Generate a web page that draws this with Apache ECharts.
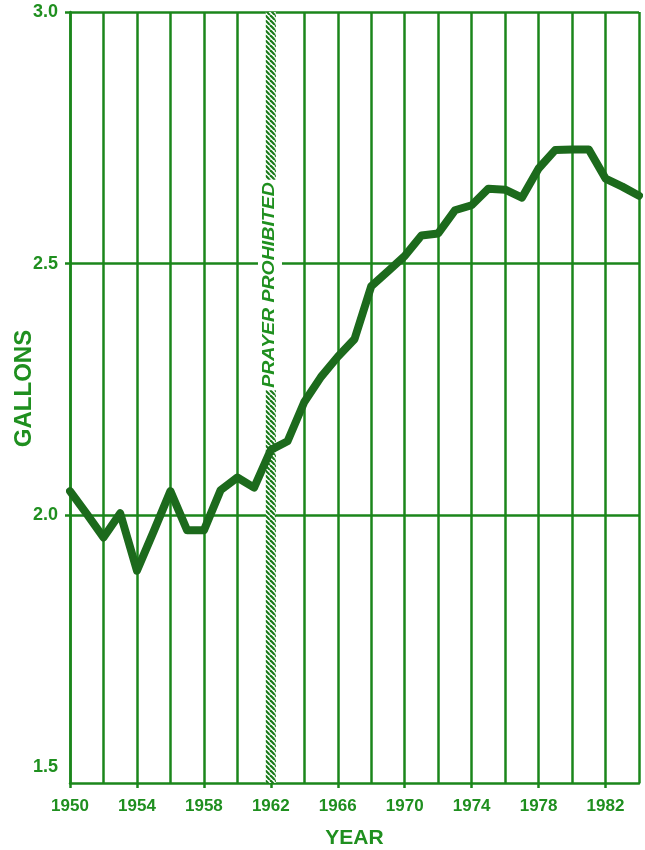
<!DOCTYPE html>
<html>
<head>
<meta charset="utf-8">
<script src="https://cdn.jsdelivr.net/npm/echarts@6/dist/echarts.min.js"></script>
<style>
html, body { margin: 0; padding: 0; background: #fff; }
#main { width: 645px; height: 850px; }
</style>
</head>
<body>
<div id="main"></div>
<script>
// per-year values
var years = [1950, 1951, 1952, 1953, 1954, 1955, 1956, 1957, 1958, 1959,
             1960, 1961, 1962, 1963, 1964, 1965, 1966, 1967, 1968, 1969,
             1970, 1971, 1972, 1973, 1974, 1975, 1976, 1977, 1978, 1979,
             1980, 1981, 1982, 1983, 1984];
var gallons = [2.048, 2.003, 1.956, 2.004, 1.890, 1.968, 2.048, 1.970, 1.970, 2.050,
               2.075, 2.055, 2.130, 2.147, 2.225, 2.275, 2.315, 2.350, 2.455, 2.485,
               2.515, 2.556, 2.560, 2.606, 2.616, 2.649, 2.647, 2.631, 2.689, 2.726,
               2.727, 2.727, 2.669, 2.653, 2.635];

var yLabelValues = [1.5, 2.0, 2.5, 3.0];
var yGridValues = [2.0, 2.5, 3.0];
var xTickYears = [1950, 1954, 1958, 1962, 1966, 1970, 1974, 1978, 1982];
var eventYear = 1962;
var eventText = 'PRAYER PROHIBITED';

var GRID = '#1b861b';
var LINE = '#1c6a1c';
var TEXT = '#1f8f1f';
var FONT = 'Liberation Sans';

// diagonal hatch for the 1962 band
var hatch = document.createElement('canvas');
hatch.width = 5;
hatch.height = 5;
var hctx = hatch.getContext('2d');
hctx.fillStyle = '#ffffff';
hctx.fillRect(0, 0, 5, 5);
hctx.strokeStyle = '#1a7a1a';
hctx.lineWidth = 2.2;
[-5, 0, 5].forEach(function (k) {
    hctx.beginPath();
    hctx.moveTo(k, 0);
    hctx.lineTo(k + 5, 5);
    hctx.stroke();
});

var chart = echarts.init(document.getElementById('main'));

var option = {
    backgroundColor: '#fff',
    animation: false,
    grid: { left: 70, right: 6, top: 12, bottom: 67, outerBoundsMode: 'none' },
    xAxis: [{
        type: 'value',
        min: 1950,
        max: 1984,
        interval: 2,
        name: 'YEAR',
        nameLocation: 'middle',
        nameGap: 45,
        nameMoveOverlap: false,
        nameTextStyle: { color: TEXT, fontSize: 21, fontWeight: 'bold', fontFamily: FONT },
        axisLine: { show: true, lineStyle: { color: GRID, width: 2.5 } },
        axisTick: { show: false },
        axisLabel: {
            color: TEXT, fontSize: 17, fontWeight: 'bold', fontFamily: FONT, margin: 15,
            formatter: function (v) { return xTickYears.indexOf(v) >= 0 ? String(v) : ''; }
        },
        splitLine: { show: true, lineStyle: { color: GRID, width: 2.5 } }
    }, {
        // second axis only for the 4-year ticks
        type: 'value',
        position: 'bottom',
        min: 1950,
        max: 1984,
        axisLine: { show: false },
        axisLabel: { show: false },
        splitLine: { show: false },
        axisTick: { show: true, length: 5, customValues: xTickYears, lineStyle: { color: GRID, width: 2.5 } }
    }],
    yAxis: {
        type: 'value',
        min: 1.468,
        max: 3.0,
        name: 'GALLONS',
        nameLocation: 'middle',
        nameGap: 34,
        nameMoveOverlap: false,
        nameTextStyle: { color: TEXT, fontSize: 24, fontWeight: 'bold', fontFamily: FONT, padding: [0, 0, 0, 18] },
        axisLine: { show: true, lineStyle: { color: GRID, width: 2.5 } },
        axisTick: { show: true, length: 5, customValues: yGridValues, lineStyle: { color: GRID, width: 2.5 } },
        axisLabel: {
            color: TEXT, fontSize: 18, fontWeight: 'bold', fontFamily: FONT, margin: 12,
            customValues: yLabelValues,
            formatter: function (v) { return v.toFixed(1); }
        },
        splitLine: { show: true, lineStyle: { color: GRID, width: 2.5 } }
    },
    series: [{
        type: 'line',
        data: years.map(function (y, i) { return [y, gallons[i]]; }),
        showSymbol: false,
        lineStyle: { color: LINE, width: 8, cap: 'round', join: 'round' },
        z: 5,
        markArea: {
            silent: true,
            itemStyle: { color: { image: hatch, repeat: 'repeat' } },
            data: [[{ xAxis: eventYear - 0.3 }, { xAxis: eventYear + 0.3 }]]
        }
    }]
};

chart.setOption(option);

// vertical caption over the hatched band
var bandX = chart.convertToPixel({ xAxisIndex: 0 }, eventYear - 0.05);
chart.setOption({
    graphic: [{
        type: 'text',
        x: bandX,
        y: 285,
        rotation: Math.PI / 2,
        scaleX: 1.22,
        z: 20,
        style: {
            text: eventText,
            fill: TEXT,
            font: 'italic bold 16px "Liberation Sans"',
            align: 'center',
            verticalAlign: 'middle',
            backgroundColor: '#fff',
            padding: [4, 2]
        }
    }]
});
</script>
</body>
</html>
